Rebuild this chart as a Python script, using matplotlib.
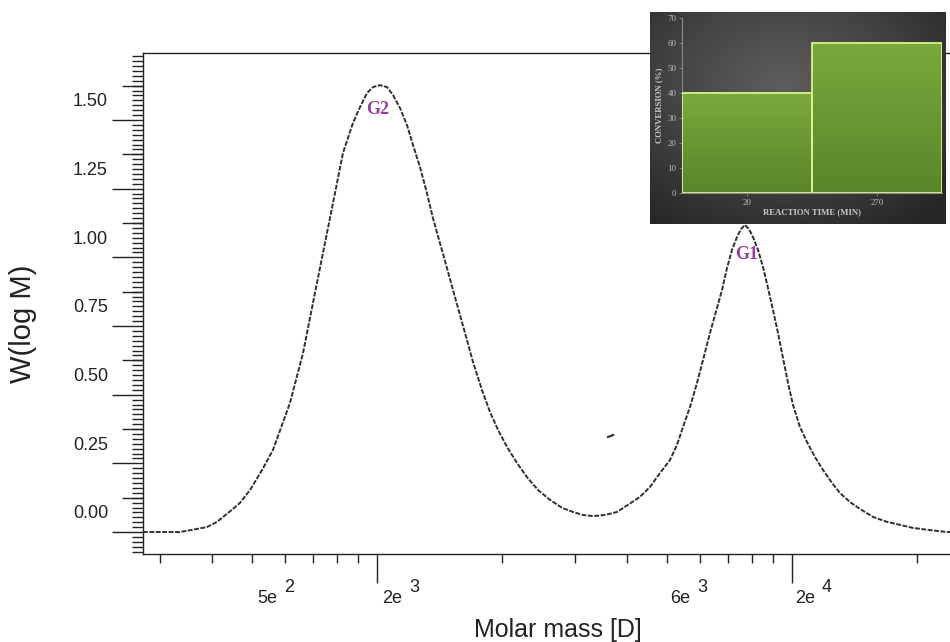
import matplotlib.pyplot as plt
import numpy as np
from matplotlib.colors import LinearSegmentedColormap
from matplotlib.ticker import FixedLocator, NullFormatter

# GPC trace
molar_mass = [546, 670, 779, 823, 870, 935, 989, 1057, 1123, 1181, 1234, 1327, 1402, 1482, 1567, 1656,
              1750, 1820, 1892, 1956, 2034, 2114, 2186, 2272, 2362, 2442, 2539, 2639, 2728, 2836, 2949,
              3049, 3170, 3295, 3407, 3581, 3744, 3914, 4114, 4351, 4597, 4887, 5224, 5584, 5935, 6273,
              6630, 7087, 7574, 8050, 8604, 9096, 9615, 10163, 10566, 10923, 11357, 11808, 12207, 12690,
              13193, 13564, 13945, 14336, 14741, 15071, 15408, 15756, 16108, 16562, 17027, 17508, 17998,
              18506, 19024, 19563, 20110, 20908, 21732, 22720, 23752, 24970, 26104, 27596, 29170, 31344,
              33880, 36410, 39130, 43004, 47270, 50810]
w_log_m = [-0.073, -0.073, -0.055, -0.036, -0.007, 0.033, 0.080, 0.153, 0.226, 0.317, 0.397, 0.579,
           0.761, 0.943, 1.125, 1.307, 1.416, 1.474, 1.525, 1.547, 1.554, 1.547, 1.518, 1.471, 1.409,
           1.336, 1.256, 1.161, 1.070, 0.979, 0.888, 0.808, 0.717, 0.626, 0.546, 0.444, 0.364, 0.299,
           0.237, 0.178, 0.127, 0.080, 0.044, 0.015, 0.000, -0.011, -0.015, -0.011, 0.000, 0.026,
           0.055, 0.091, 0.142, 0.189, 0.244, 0.309, 0.382, 0.470, 0.553, 0.652, 0.743, 0.808, 0.888,
           0.954, 1.001, 1.030, 1.045, 1.030, 1.001, 0.954, 0.892, 0.815, 0.735, 0.652, 0.561, 0.470,
           0.390, 0.309, 0.255, 0.200, 0.153, 0.106, 0.069, 0.036, 0.011, -0.018, -0.036, -0.047,
           -0.058, -0.066, -0.073, -0.073]

stray_mm = [7210, 7413]
stray_w = [0.273, 0.280]

peak_names = ['G2', 'G1']
peak_mm = [2011, 15590]
peak_w = [1.465, 0.936]

y_labels = ['0.00', '0.25', '0.50', '0.75', '1.00', '1.25', '1.50']
y_label_vals = [0.0, 0.25, 0.5, 0.75, 1.0, 1.25, 1.5]

x_major = [2000, 20000]
x_minor = [600, 800, 1000, 1200, 1400, 1600, 1800, 4000, 6000, 8000, 10000, 12000, 14000, 16000, 18000, 40000]
x_label_base = ['5e', '2e', '6e', '2e']
x_label_exp = ['2', '3', '3', '4']
x_label_at = [1028, 2056, 10160, 20330]

# inset bar chart
reaction_time = ['20', '270']
conversion = [40, 60]

SANS = 'Liberation Sans'
SERIF = 'Liberation Serif'
PX = 72 / 100  # points per pixel


def main_axes(fig):

    ax = fig.add_axes([143 / 950, 88 / 642, 817 / 950, 501 / 642])
    ax.set_xscale('log')
    ax.set_xlim(546, 50800)
    ax.set_ylim(-0.153, 1.671)

    ax.plot(molar_mass, w_log_m, color='#303030', lw=1.4, ls=(0, (2.5, 0.8)))
    ax.plot(stray_mm, stray_w, color='#333333', lw=1.6)

    for name, m, w in zip(peak_names, peak_mm, peak_w):
        ax.text(m, w, name, color='#9b3c9e', fontsize=13, fontweight='bold', family=SERIF,
                ha='center', va='center')

    for s in ax.spines.values():
        s.set_color('#222222')
        s.set_linewidth(1.0)

    # x ticks
    ax.xaxis.set_major_locator(FixedLocator(x_major))
    ax.xaxis.set_minor_locator(FixedLocator(x_minor))
    ax.xaxis.set_major_formatter(NullFormatter())
    ax.xaxis.set_minor_formatter(NullFormatter())
    ax.tick_params(axis='x', which='major', length=29 * PX, width=1, color='#222222')
    ax.tick_params(axis='x', which='minor', length=9 * PX, width=1, color='#222222')

    for base, exp, m in zip(x_label_base, x_label_exp, x_label_at):
        ax.annotate(base, xy=(m, 0), xycoords=('data', 'axes fraction'), xytext=(0, -49 * PX),
                    textcoords='offset points', ha='left', va='baseline', fontsize=13, family=SANS,
                    color='#222222')
        ax.annotate(exp, xy=(m, 0), xycoords=('data', 'axes fraction'), xytext=(27 * PX, -38 * PX),
                    textcoords='offset points', ha='left', va='baseline', fontsize=13, family=SANS,
                    color='#222222')

    # y ticks: long, medium and short marks, labels sit between them
    step = 0.125 / 7
    long_ticks = [-0.073, 0.177, 0.427, 0.677, 0.927, 1.177, 1.427]
    mid_ticks = [0.052, 0.302, 0.552, 0.802, 1.052, 1.302, 1.552]
    short_ticks = np.arange(-0.073 - 4 * step, 1.671, step)

    ax.yaxis.set_major_locator(FixedLocator(long_ticks))
    ax.yaxis.set_minor_locator(FixedLocator(short_ticks))
    ax.yaxis.set_major_formatter(NullFormatter())
    ax.yaxis.set_minor_formatter(NullFormatter())
    ax.tick_params(axis='y', which='major', length=31 * PX, width=1, color='#222222')
    ax.tick_params(axis='y', which='minor', length=11 * PX, width=1, color='#222222')

    mid = ax.secondary_yaxis('left')
    mid.set_yticks(mid_ticks)
    mid.set_yticklabels([])
    mid.tick_params(length=21 * PX, width=1, color='#222222')
    mid.spines['left'].set_visible(False)

    lab = ax.secondary_yaxis('left')
    lab.set_yticks(y_label_vals)
    lab.set_yticklabels(y_labels, fontsize=13, family=SANS, color='#222222')
    lab.tick_params(length=0, pad=35 * PX)
    lab.spines['left'].set_visible(False)

    fig.text(558 / 950, 5 / 642, 'Molar mass [D]', ha='center', va='baseline', fontsize=18,
             family=SANS, color='#222222')
    fig.text(23 / 950, 1 - 324 / 642, 'W(log M)', rotation=90, ha='center', va='center',
             fontsize=21, family=SANS, color='#222222')


def inset(fig):

    bg = fig.add_axes([650 / 950, 1 - 224 / 642, 296 / 950, 212 / 642])
    yy, xx = np.mgrid[0:1:200j, 0:1:280j]
    r = np.sqrt(((xx - 0.45) / 0.75) ** 2 + ((yy - 0.35) / 0.8) ** 2)
    dark = LinearSegmentedColormap.from_list('dark', ['#5e5e5e', '#444444', '#262626'])
    bg.imshow(np.clip(r, 0, 1), cmap=dark, vmin=0, vmax=1, aspect='auto', extent=[0, 1, 0, 1])
    bg.set_axis_off()

    ins = fig.add_axes([682 / 950, 1 - 193 / 642, 260 / 950, 175 / 642])
    ins.set_facecolor('none')

    bars = ins.bar(reaction_time, conversion, width=1.0, color='#6c9a34',
                   edgecolor='#d8f58a', lw=1.3, zorder=3)

    green = LinearSegmentedColormap.from_list('green', ['#5a852a', '#7ba83d'])
    grad = np.linspace(0, 1, 100).reshape(-1, 1)
    for b in bars:
        im = ins.imshow(grad, cmap=green, origin='lower', aspect='auto', zorder=2,
                        extent=[b.get_x(), b.get_x() + b.get_width(), 0, b.get_height()])
        im.set_clip_path(b)
        b.set_facecolor('none')

    ins.set_xlim(-0.5, 1.5)
    ins.set_ylim(0, 70)
    ins.set_yticks(range(0, 71, 10))

    for side in ['top', 'right']:
        ins.spines[side].set_visible(False)
    for side in ['left', 'bottom']:
        ins.spines[side].set_color('#8a8a8a')
        ins.spines[side].set_linewidth(0.8)

    ins.tick_params(colors='#8a8a8a', length=2, width=0.6, pad=2, labelsize=6.5,
                    labelcolor='#bdbdbd')
    for t in ins.get_xticklabels() + ins.get_yticklabels():
        t.set_family(SERIF)

    ins.set_xlabel('REACTION TIME (MIN)', fontsize=6.3, fontweight='bold', family=SERIF,
                   color='#c8c8c8', labelpad=1)
    ins.set_ylabel('CONVERSION (%)', fontsize=6.3, fontweight='bold', family=SERIF,
                   color='#c8c8c8', labelpad=3)


def main():

    fig = plt.figure(figsize=(9.5, 6.42), dpi=100)
    main_axes(fig)
    inset(fig)
    fig.savefig('out.png', dpi=100)


if __name__ == '__main__':

    main()
